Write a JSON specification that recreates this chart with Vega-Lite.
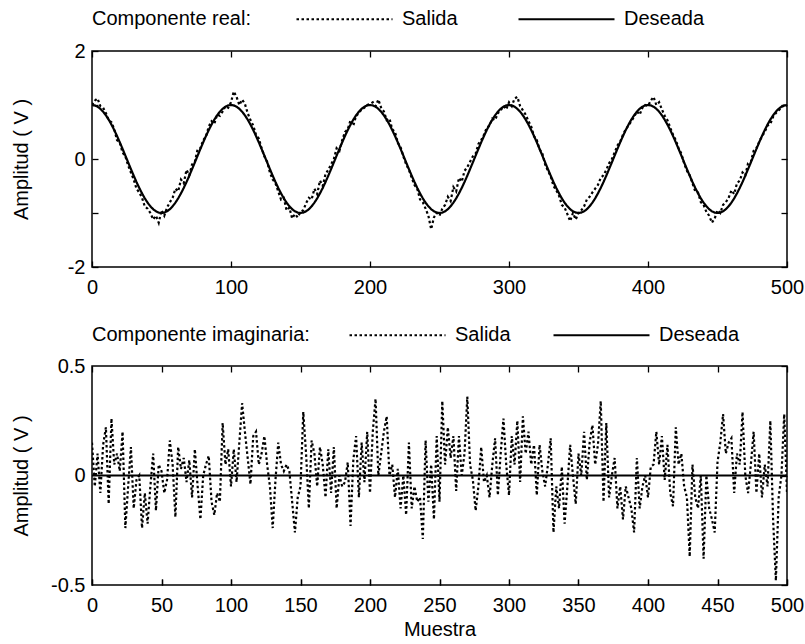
{
"$schema":"https://vega.github.io/schema/vega-lite/v6.json",
"padding":{"left":10,"top":6,"right":5,"bottom":5},
"background":"white",
"spacing":24,
"config":{"font":"Liberation Sans","view":{"stroke":"black","strokeWidth":1.5},
"axis":{"labelFont":"Liberation Sans","labelFontSize":20,"labelColor":"black","titleFont":"Liberation Sans","titleFontSize":20,"titleFontWeight":"normal","titleColor":"black","domain":false,"tickColor":"black","tickWidth":1.3,"tickSize":6,"tickOpacity":1,"grid":false},
"legend":{"labelFont":"Liberation Sans","titleFont":"Liberation Sans"}},
"resolve":{"scale":{"strokeDash":"independent"},"legend":{"strokeDash":"independent"}},
"vconcat":[
{"width":695,"height":216,
"data":{"values":[
{"n":0,"Salida":1.0,"Deseada":1},{"n":2,"Salida":1.08,"Deseada":0.992},{"n":4,"Salida":1.12,"Deseada":0.969},{"n":6,"Salida":0.98,"Deseada":0.93},{"n":8,"Salida":0.95,"Deseada":0.876},{"n":10,"Salida":0.85,"Deseada":0.809},{"n":12,"Salida":0.72,"Deseada":0.729},{"n":14,"Salida":0.68,"Deseada":0.637},{"n":16,"Salida":0.55,"Deseada":0.536},{"n":18,"Salida":0.35,"Deseada":0.426},{"n":20,"Salida":0.3,"Deseada":0.309},{"n":22,"Salida":0.12,"Deseada":0.187},{"n":24,"Salida":0.05,"Deseada":0.063},{"n":26,"Salida":-0.12,"Deseada":-0.063},{"n":28,"Salida":-0.25,"Deseada":-0.187},{"n":30,"Salida":-0.38,"Deseada":-0.309},{"n":32,"Salida":-0.55,"Deseada":-0.426},{"n":34,"Salida":-0.62,"Deseada":-0.536},{"n":36,"Salida":-0.72,"Deseada":-0.637},{"n":38,"Salida":-0.88,"Deseada":-0.729},{"n":40,"Salida":-0.92,"Deseada":-0.809},{"n":42,"Salida":-1.0,"Deseada":-0.876},{"n":44,"Salida":-1.12,"Deseada":-0.93},{"n":46,"Salida":-1.05,"Deseada":-0.969},{"n":48,"Salida":-1.18,"Deseada":-0.992},{"n":50,"Salida":-0.95,"Deseada":-1},{"n":52,"Salida":-1.05,"Deseada":-0.992},{"n":54,"Salida":-0.9,"Deseada":-0.969},{"n":56,"Salida":-0.8,"Deseada":-0.93},{"n":58,"Salida":-0.72,"Deseada":-0.876},{"n":60,"Salida":-0.55,"Deseada":-0.809},{"n":62,"Salida":-0.6,"Deseada":-0.729},{"n":64,"Salida":-0.38,"Deseada":-0.637},{"n":66,"Salida":-0.45,"Deseada":-0.536},{"n":68,"Salida":-0.2,"Deseada":-0.426},{"n":70,"Salida":-0.3,"Deseada":-0.309},{"n":72,"Salida":-0.1,"Deseada":-0.187},{"n":74,"Salida":-0.05,"Deseada":-0.063},{"n":76,"Salida":0.18,"Deseada":0.063},{"n":78,"Salida":0.2,"Deseada":0.187},{"n":80,"Salida":0.35,"Deseada":0.309},{"n":82,"Salida":0.42,"Deseada":0.426},{"n":84,"Salida":0.6,"Deseada":0.536},{"n":86,"Salida":0.7,"Deseada":0.637},{"n":88,"Salida":0.65,"Deseada":0.729},{"n":90,"Salida":0.82,"Deseada":0.809},{"n":92,"Salida":0.8,"Deseada":0.876},{"n":94,"Salida":0.88,"Deseada":0.93},{"n":96,"Salida":0.98,"Deseada":0.969},{"n":98,"Salida":0.95,"Deseada":0.992},
{"n":100,"Salida":1.05,"Deseada":1},{"n":102,"Salida":1.25,"Deseada":0.992},{"n":104,"Salida":1.15,"Deseada":0.969},{"n":106,"Salida":1.0,"Deseada":0.93},{"n":108,"Salida":1.1,"Deseada":0.876},{"n":110,"Salida":1.02,"Deseada":0.809},{"n":112,"Salida":0.85,"Deseada":0.729},{"n":114,"Salida":0.72,"Deseada":0.637},{"n":116,"Salida":0.62,"Deseada":0.536},{"n":118,"Salida":0.45,"Deseada":0.426},{"n":120,"Salida":0.38,"Deseada":0.309},{"n":122,"Salida":0.2,"Deseada":0.187},{"n":124,"Salida":0.05,"Deseada":0.063},{"n":126,"Salida":-0.05,"Deseada":-0.063},{"n":128,"Salida":-0.25,"Deseada":-0.187},{"n":130,"Salida":-0.38,"Deseada":-0.309},{"n":132,"Salida":-0.45,"Deseada":-0.426},{"n":134,"Salida":-0.6,"Deseada":-0.536},{"n":136,"Salida":-0.75,"Deseada":-0.637},{"n":138,"Salida":-0.72,"Deseada":-0.729},{"n":140,"Salida":-0.95,"Deseada":-0.809},{"n":142,"Salida":-0.9,"Deseada":-0.876},{"n":144,"Salida":-1.1,"Deseada":-0.93},{"n":146,"Salida":-1.02,"Deseada":-0.969},{"n":148,"Salida":-1.08,"Deseada":-0.992},{"n":150,"Salida":-0.98,"Deseada":-1},{"n":152,"Salida":-0.95,"Deseada":-0.992},{"n":154,"Salida":-0.82,"Deseada":-0.969},{"n":156,"Salida":-0.72,"Deseada":-0.93},{"n":158,"Salida":-0.75,"Deseada":-0.876},{"n":160,"Salida":-0.55,"Deseada":-0.809},{"n":162,"Salida":-0.65,"Deseada":-0.729},{"n":164,"Salida":-0.4,"Deseada":-0.637},{"n":166,"Salida":-0.5,"Deseada":-0.536},{"n":168,"Salida":-0.28,"Deseada":-0.426},{"n":170,"Salida":-0.2,"Deseada":-0.309},{"n":172,"Salida":-0.1,"Deseada":-0.187},{"n":174,"Salida":0.0,"Deseada":-0.063},{"n":176,"Salida":0.2,"Deseada":0.063},{"n":178,"Salida":0.15,"Deseada":0.187},{"n":180,"Salida":0.35,"Deseada":0.309},{"n":182,"Salida":0.5,"Deseada":0.426},{"n":184,"Salida":0.55,"Deseada":0.536},{"n":186,"Salida":0.72,"Deseada":0.637},{"n":188,"Salida":0.62,"Deseada":0.729},{"n":190,"Salida":0.8,"Deseada":0.809},{"n":192,"Salida":0.85,"Deseada":0.876},{"n":194,"Salida":0.92,"Deseada":0.93},{"n":196,"Salida":0.95,"Deseada":0.969},{"n":198,"Salida":1.0,"Deseada":0.992},
{"n":200,"Salida":1.02,"Deseada":1},{"n":202,"Salida":1.05,"Deseada":0.992},{"n":204,"Salida":0.98,"Deseada":0.969},{"n":206,"Salida":1.1,"Deseada":0.93},{"n":208,"Salida":0.95,"Deseada":0.876},{"n":210,"Salida":0.88,"Deseada":0.809},{"n":212,"Salida":0.72,"Deseada":0.729},{"n":214,"Salida":0.75,"Deseada":0.637},{"n":216,"Salida":0.55,"Deseada":0.536},{"n":218,"Salida":0.5,"Deseada":0.426},{"n":220,"Salida":0.3,"Deseada":0.309},{"n":222,"Salida":0.22,"Deseada":0.187},{"n":224,"Salida":0.05,"Deseada":0.063},{"n":226,"Salida":-0.1,"Deseada":-0.063},{"n":228,"Salida":-0.2,"Deseada":-0.187},{"n":230,"Salida":-0.35,"Deseada":-0.309},{"n":232,"Salida":-0.48,"Deseada":-0.426},{"n":234,"Salida":-0.55,"Deseada":-0.536},{"n":236,"Salida":-0.75,"Deseada":-0.637},{"n":238,"Salida":-0.8,"Deseada":-0.729},{"n":240,"Salida":-0.92,"Deseada":-0.809},{"n":242,"Salida":-1.05,"Deseada":-0.876},{"n":244,"Salida":-1.3,"Deseada":-0.93},{"n":246,"Salida":-1.08,"Deseada":-0.969},{"n":248,"Salida":-1.0,"Deseada":-0.992},{"n":250,"Salida":-1.05,"Deseada":-1},{"n":252,"Salida":-0.92,"Deseada":-0.992},{"n":254,"Salida":-0.85,"Deseada":-0.969},{"n":256,"Salida":-0.7,"Deseada":-0.93},{"n":258,"Salida":-0.78,"Deseada":-0.876},{"n":260,"Salida":-0.52,"Deseada":-0.809},{"n":262,"Salida":-0.6,"Deseada":-0.729},{"n":264,"Salida":-0.35,"Deseada":-0.637},{"n":266,"Salida":-0.42,"Deseada":-0.536},{"n":268,"Salida":-0.22,"Deseada":-0.426},{"n":270,"Salida":-0.15,"Deseada":-0.309},{"n":272,"Salida":-0.05,"Deseada":-0.187},{"n":274,"Salida":0.05,"Deseada":-0.063},{"n":276,"Salida":0.1,"Deseada":0.063},{"n":278,"Salida":0.28,"Deseada":0.187},{"n":280,"Salida":0.35,"Deseada":0.309},{"n":282,"Salida":0.45,"Deseada":0.426},{"n":284,"Salida":0.58,"Deseada":0.536},{"n":286,"Salida":0.62,"Deseada":0.637},{"n":288,"Salida":0.75,"Deseada":0.729},{"n":290,"Salida":0.72,"Deseada":0.809},{"n":292,"Salida":0.85,"Deseada":0.876},{"n":294,"Salida":0.9,"Deseada":0.93},{"n":296,"Salida":0.98,"Deseada":0.969},{"n":298,"Salida":0.92,"Deseada":0.992},
{"n":300,"Salida":1.05,"Deseada":1},{"n":302,"Salida":0.98,"Deseada":0.992},{"n":304,"Salida":1.12,"Deseada":0.969},{"n":306,"Salida":1.15,"Deseada":0.93},{"n":308,"Salida":0.98,"Deseada":0.876},{"n":310,"Salida":0.9,"Deseada":0.809},{"n":312,"Salida":0.82,"Deseada":0.729},{"n":314,"Salida":0.7,"Deseada":0.637},{"n":316,"Salida":0.6,"Deseada":0.536},{"n":318,"Salida":0.42,"Deseada":0.426},{"n":320,"Salida":0.35,"Deseada":0.309},{"n":322,"Salida":0.18,"Deseada":0.187},{"n":324,"Salida":0.1,"Deseada":0.063},{"n":326,"Salida":-0.1,"Deseada":-0.063},{"n":328,"Salida":-0.22,"Deseada":-0.187},{"n":330,"Salida":-0.32,"Deseada":-0.309},{"n":332,"Salida":-0.5,"Deseada":-0.426},{"n":334,"Salida":-0.58,"Deseada":-0.536},{"n":336,"Salida":-0.68,"Deseada":-0.637},{"n":338,"Salida":-0.85,"Deseada":-0.729},{"n":340,"Salida":-0.9,"Deseada":-0.809},{"n":342,"Salida":-1.02,"Deseada":-0.876},{"n":344,"Salida":-1.15,"Deseada":-0.93},{"n":346,"Salida":-1.0,"Deseada":-0.969},{"n":348,"Salida":-1.12,"Deseada":-0.992},{"n":350,"Salida":-1.0,"Deseada":-1},{"n":352,"Salida":-0.95,"Deseada":-0.992},{"n":354,"Salida":-0.88,"Deseada":-0.969},{"n":356,"Salida":-0.75,"Deseada":-0.93},{"n":358,"Salida":-0.7,"Deseada":-0.876},{"n":360,"Salida":-0.62,"Deseada":-0.809},{"n":362,"Salida":-0.55,"Deseada":-0.729},{"n":364,"Salida":-0.48,"Deseada":-0.637},{"n":366,"Salida":-0.35,"Deseada":-0.536},{"n":368,"Salida":-0.3,"Deseada":-0.426},{"n":370,"Salida":-0.2,"Deseada":-0.309},{"n":372,"Salida":-0.08,"Deseada":-0.187},{"n":374,"Salida":0.0,"Deseada":-0.063},{"n":376,"Salida":0.12,"Deseada":0.063},{"n":378,"Salida":0.25,"Deseada":0.187},{"n":380,"Salida":0.32,"Deseada":0.309},{"n":382,"Salida":0.45,"Deseada":0.426},{"n":384,"Salida":0.55,"Deseada":0.536},{"n":386,"Salida":0.62,"Deseada":0.637},{"n":388,"Salida":0.7,"Deseada":0.729},{"n":390,"Salida":0.78,"Deseada":0.809},{"n":392,"Salida":0.88,"Deseada":0.876},{"n":394,"Salida":0.82,"Deseada":0.93},{"n":396,"Salida":0.95,"Deseada":0.969},{"n":398,"Salida":1.0,"Deseada":0.992},
{"n":400,"Salida":0.98,"Deseada":1},{"n":402,"Salida":1.08,"Deseada":0.992},{"n":404,"Salida":1.15,"Deseada":0.969},{"n":406,"Salida":1.0,"Deseada":0.93},{"n":408,"Salida":1.05,"Deseada":0.876},{"n":410,"Salida":0.92,"Deseada":0.809},{"n":412,"Salida":0.8,"Deseada":0.729},{"n":414,"Salida":0.72,"Deseada":0.637},{"n":416,"Salida":0.58,"Deseada":0.536},{"n":418,"Salida":0.45,"Deseada":0.426},{"n":420,"Salida":0.35,"Deseada":0.309},{"n":422,"Salida":0.2,"Deseada":0.187},{"n":424,"Salida":0.1,"Deseada":0.063},{"n":426,"Salida":-0.08,"Deseada":-0.063},{"n":428,"Salida":-0.22,"Deseada":-0.187},{"n":430,"Salida":-0.3,"Deseada":-0.309},{"n":432,"Salida":-0.45,"Deseada":-0.426},{"n":434,"Salida":-0.6,"Deseada":-0.536},{"n":436,"Salida":-0.62,"Deseada":-0.637},{"n":438,"Salida":-0.8,"Deseada":-0.729},{"n":440,"Salida":-0.85,"Deseada":-0.809},{"n":442,"Salida":-0.98,"Deseada":-0.876},{"n":444,"Salida":-1.05,"Deseada":-0.93},{"n":446,"Salida":-1.18,"Deseada":-0.969},{"n":448,"Salida":-1.1,"Deseada":-0.992},{"n":450,"Salida":-0.95,"Deseada":-1},{"n":452,"Salida":-1.0,"Deseada":-0.992},{"n":454,"Salida":-0.85,"Deseada":-0.969},{"n":456,"Salida":-0.8,"Deseada":-0.93},{"n":458,"Salida":-0.72,"Deseada":-0.876},{"n":460,"Salida":-0.58,"Deseada":-0.809},{"n":462,"Salida":-0.65,"Deseada":-0.729},{"n":464,"Salida":-0.45,"Deseada":-0.637},{"n":466,"Salida":-0.4,"Deseada":-0.536},{"n":468,"Salida":-0.25,"Deseada":-0.426},{"n":470,"Salida":-0.3,"Deseada":-0.309},{"n":472,"Salida":-0.08,"Deseada":-0.187},{"n":474,"Salida":-0.05,"Deseada":-0.063},{"n":476,"Salida":0.15,"Deseada":0.063},{"n":478,"Salida":0.2,"Deseada":0.187},{"n":480,"Salida":0.32,"Deseada":0.309},{"n":482,"Salida":0.42,"Deseada":0.426},{"n":484,"Salida":0.5,"Deseada":0.536},{"n":486,"Salida":0.62,"Deseada":0.637},{"n":488,"Salida":0.65,"Deseada":0.729},{"n":490,"Salida":0.78,"Deseada":0.809},{"n":492,"Salida":0.85,"Deseada":0.876},{"n":494,"Salida":0.9,"Deseada":0.93},{"n":496,"Salida":0.95,"Deseada":0.969},{"n":498,"Salida":1.0,"Deseada":0.992},{"n":500,"Salida":0.98,"Deseada":1}
]},
"transform":[{"fold":["Salida","Deseada"],"as":["serie","v"]}],
"resolve":{"axis":{"x":"independent","y":"independent"}},
"layer":[
{"mark":{"type":"line","color":"black","strokeWidth":2.2,"strokeCap":"butt","clip":true},
"encoding":{
"x":{"field":"n","type":"quantitative","scale":{"domain":[0,500],"nice":false,"zero":false},"axis":{"orient":"bottom","values":[0,100,200,300,400,500],"title":null,"labelFlush":false,"ticks":false,"tickSize":0,"labelPadding":10}},
"y":{"field":"v","type":"quantitative","scale":{"domain":[-2,2],"nice":false},"axis":{"orient":"left","values":[-2,-1,0,1,2],"labelExpr":"datum.value % 2 == 0 ? replace(datum.label, '\u2212', '-') : ''","title":"Amplitud ( V )","minExtent":45,"maxExtent":45,"titlePadding":16,"ticks":false,"tickSize":0,"labelPadding":7}},
"strokeDash":{"field":"serie","type":"nominal","scale":{"domain":["Salida","Deseada"],"range":[[2.5,2.5],[1,0]]},
"legend":{"title":"Componente real:","orient":"none","legendX":0,"legendY":-43.5,"direction":"horizontal","titleOrient":"left","titleFontSize":20,"titleFontWeight":"normal","titleColor":"black","titleLimit":400,"labelFontSize":20,"labelColor":"black","labelLimit":200,"symbolType":"M-4.8,0H4.8","symbolSize":400,"symbolStrokeWidth":2.2,"symbolStrokeColor":"black","symbolFillColor":"transparent","titlePadding":82,"columnPadding":56,"labelOffset":46}}
}},
{"mark":{"type":"line","opacity":0},
"encoding":{
"x":{"field":"n","type":"quantitative","axis":{"orient":"top","offset":-216,"values":[0,100,200,300,400,500],"labels":false,"title":null,"minExtent":0,"ticks":true,"tickSize":6,"tickColor":"black","tickWidth":1.3,"zindex":2}},
"y":{"field":"v","type":"quantitative","axis":{"orient":"right","offset":-695,"values":[-2,-1,0,1,2],"labels":false,"title":null,"minExtent":0,"ticks":true,"tickSize":6,"tickColor":"black","tickWidth":1.3,"zindex":2}},
"detail":{"field":"serie"}
}},
{"mark":{"type":"line","opacity":0},
"encoding":{
"x":{"field":"n","type":"quantitative","axis":{"orient":"bottom","offset":-216,"values":[0,100,200,300,400,500],"labels":false,"title":null,"minExtent":0,"ticks":true,"tickSize":6,"tickColor":"black","tickWidth":1.3,"zindex":2}},
"y":{"field":"v","type":"quantitative","axis":{"orient":"left","offset":-695,"values":[-2,-1,0,1,2],"labels":false,"title":null,"minExtent":0,"ticks":true,"tickSize":6,"tickColor":"black","tickWidth":1.3,"zindex":2}},
"detail":{"field":"serie"}
}}
]},
{"width":695,"height":219,
"data":{"values":[
{"n":0,"Salida":0.15,"Deseada":0},{"n":2,"Salida":-0.05,"Deseada":0},{"n":4,"Salida":0.1,"Deseada":0},{"n":6,"Salida":-0.08,"Deseada":0},{"n":8,"Salida":0.14,"Deseada":0},{"n":10,"Salida":0.22,"Deseada":0},{"n":12,"Salida":-0.13,"Deseada":0},{"n":14,"Salida":0.26,"Deseada":0},{"n":16,"Salida":0.05,"Deseada":0},{"n":18,"Salida":0.1,"Deseada":0},{"n":20,"Salida":0.02,"Deseada":0},{"n":22,"Salida":0.2,"Deseada":0},{"n":24,"Salida":-0.24,"Deseada":0},{"n":26,"Salida":-0.05,"Deseada":0},{"n":28,"Salida":0.13,"Deseada":0},{"n":30,"Salida":-0.15,"Deseada":0},{"n":32,"Salida":-0.02,"Deseada":0},{"n":34,"Salida":0.0,"Deseada":0},{"n":36,"Salida":-0.24,"Deseada":0},{"n":38,"Salida":-0.08,"Deseada":0},{"n":40,"Salida":-0.22,"Deseada":0},{"n":42,"Salida":-0.05,"Deseada":0},{"n":44,"Salida":0.1,"Deseada":0},{"n":46,"Salida":-0.16,"Deseada":0},{"n":48,"Salida":0.05,"Deseada":0},{"n":50,"Salida":0.02,"Deseada":0},{"n":52,"Salida":-0.08,"Deseada":0},{"n":54,"Salida":-0.02,"Deseada":0},{"n":56,"Salida":0.16,"Deseada":0},{"n":58,"Salida":0.05,"Deseada":0},{"n":60,"Salida":-0.19,"Deseada":0},{"n":62,"Salida":0.13,"Deseada":0},{"n":64,"Salida":0.03,"Deseada":0},{"n":66,"Salida":0.08,"Deseada":0},{"n":68,"Salida":-0.03,"Deseada":0},{"n":70,"Salida":0.07,"Deseada":0},{"n":72,"Salida":-0.1,"Deseada":0},{"n":74,"Salida":0.12,"Deseada":0},{"n":76,"Salida":-0.05,"Deseada":0},{"n":78,"Salida":-0.2,"Deseada":0},{"n":80,"Salida":0.0,"Deseada":0},{"n":82,"Salida":0.05,"Deseada":0},{"n":84,"Salida":0.09,"Deseada":0},{"n":86,"Salida":-0.12,"Deseada":0},{"n":88,"Salida":-0.18,"Deseada":0},{"n":90,"Salida":-0.08,"Deseada":0},{"n":92,"Salida":-0.12,"Deseada":0},{"n":94,"Salida":0.24,"Deseada":0},{"n":96,"Salida":0.05,"Deseada":0},{"n":98,"Salida":0.12,"Deseada":0},
{"n":100,"Salida":-0.05,"Deseada":0},{"n":102,"Salida":0.12,"Deseada":0},{"n":104,"Salida":-0.03,"Deseada":0},{"n":106,"Salida":0.15,"Deseada":0},{"n":108,"Salida":0.33,"Deseada":0},{"n":110,"Salida":0.2,"Deseada":0},{"n":112,"Salida":0.08,"Deseada":0},{"n":114,"Salida":-0.04,"Deseada":0},{"n":116,"Salida":0.18,"Deseada":0},{"n":118,"Salida":0.2,"Deseada":0},{"n":120,"Salida":0.05,"Deseada":0},{"n":122,"Salida":0.1,"Deseada":0},{"n":124,"Salida":0.18,"Deseada":0},{"n":126,"Salida":0.05,"Deseada":0},{"n":128,"Salida":-0.05,"Deseada":0},{"n":130,"Salida":-0.24,"Deseada":0},{"n":132,"Salida":-0.02,"Deseada":0},{"n":134,"Salida":0.15,"Deseada":0},{"n":136,"Salida":0.05,"Deseada":0},{"n":138,"Salida":0.02,"Deseada":0},{"n":140,"Salida":0.05,"Deseada":0},{"n":142,"Salida":0.02,"Deseada":0},{"n":144,"Salida":-0.12,"Deseada":0},{"n":146,"Salida":-0.26,"Deseada":0},{"n":148,"Salida":-0.1,"Deseada":0},{"n":150,"Salida":-0.05,"Deseada":0},{"n":152,"Salida":0.29,"Deseada":0},{"n":154,"Salida":0.1,"Deseada":0},{"n":156,"Salida":-0.15,"Deseada":0},{"n":158,"Salida":0.16,"Deseada":0},{"n":160,"Salida":0.1,"Deseada":0},{"n":162,"Salida":-0.05,"Deseada":0},{"n":164,"Salida":0.13,"Deseada":0},{"n":166,"Salida":0.05,"Deseada":0},{"n":168,"Salida":-0.1,"Deseada":0},{"n":170,"Salida":0.12,"Deseada":0},{"n":172,"Salida":-0.08,"Deseada":0},{"n":174,"Salida":0.13,"Deseada":0},{"n":176,"Salida":-0.15,"Deseada":0},{"n":178,"Salida":0.0,"Deseada":0},{"n":180,"Salida":-0.05,"Deseada":0},{"n":182,"Salida":-0.03,"Deseada":0},{"n":184,"Salida":0.06,"Deseada":0},{"n":186,"Salida":-0.23,"Deseada":0},{"n":188,"Salida":0.07,"Deseada":0},{"n":190,"Salida":0.18,"Deseada":0},{"n":192,"Salida":-0.1,"Deseada":0},{"n":194,"Salida":0.15,"Deseada":0},{"n":196,"Salida":-0.03,"Deseada":0},{"n":198,"Salida":0.2,"Deseada":0},
{"n":200,"Salida":-0.08,"Deseada":0},{"n":202,"Salida":0.2,"Deseada":0},{"n":204,"Salida":0.35,"Deseada":0},{"n":206,"Salida":0.0,"Deseada":0},{"n":208,"Salida":0.1,"Deseada":0},{"n":210,"Salida":0.2,"Deseada":0},{"n":212,"Salida":0.27,"Deseada":0},{"n":214,"Salida":0.0,"Deseada":0},{"n":216,"Salida":0.05,"Deseada":0},{"n":218,"Salida":-0.1,"Deseada":0},{"n":220,"Salida":0.03,"Deseada":0},{"n":222,"Salida":-0.15,"Deseada":0},{"n":224,"Salida":0.0,"Deseada":0},{"n":226,"Salida":-0.18,"Deseada":0},{"n":228,"Salida":0.15,"Deseada":0},{"n":230,"Salida":-0.15,"Deseada":0},{"n":232,"Salida":-0.05,"Deseada":0},{"n":234,"Salida":-0.12,"Deseada":0},{"n":236,"Salida":-0.1,"Deseada":0},{"n":238,"Salida":-0.29,"Deseada":0},{"n":240,"Salida":0.16,"Deseada":0},{"n":242,"Salida":-0.12,"Deseada":0},{"n":244,"Salida":0.05,"Deseada":0},{"n":246,"Salida":-0.2,"Deseada":0},{"n":248,"Salida":0.18,"Deseada":0},{"n":250,"Salida":-0.12,"Deseada":0},{"n":252,"Salida":0.34,"Deseada":0},{"n":254,"Salida":0.05,"Deseada":0},{"n":256,"Salida":0.22,"Deseada":0},{"n":258,"Salida":0.08,"Deseada":0},{"n":260,"Salida":0.18,"Deseada":0},{"n":262,"Salida":-0.07,"Deseada":0},{"n":264,"Salida":0.18,"Deseada":0},{"n":266,"Salida":0.0,"Deseada":0},{"n":268,"Salida":0.1,"Deseada":0},{"n":270,"Salida":0.36,"Deseada":0},{"n":272,"Salida":0.05,"Deseada":0},{"n":274,"Salida":-0.02,"Deseada":0},{"n":276,"Salida":-0.16,"Deseada":0},{"n":278,"Salida":-0.05,"Deseada":0},{"n":280,"Salida":0.13,"Deseada":0},{"n":282,"Salida":-0.03,"Deseada":0},{"n":284,"Salida":0.0,"Deseada":0},{"n":286,"Salida":-0.1,"Deseada":0},{"n":288,"Salida":0.05,"Deseada":0},{"n":290,"Salida":0.17,"Deseada":0},{"n":292,"Salida":-0.09,"Deseada":0},{"n":294,"Salida":0.1,"Deseada":0},{"n":296,"Salida":0.26,"Deseada":0},{"n":298,"Salida":0.05,"Deseada":0},
{"n":300,"Salida":-0.09,"Deseada":0},{"n":302,"Salida":0.18,"Deseada":0},{"n":304,"Salida":0.05,"Deseada":0},{"n":306,"Salida":0.25,"Deseada":0},{"n":308,"Salida":-0.03,"Deseada":0},{"n":310,"Salida":0.27,"Deseada":0},{"n":312,"Salida":0.1,"Deseada":0},{"n":314,"Salida":0.2,"Deseada":0},{"n":316,"Salida":0.05,"Deseada":0},{"n":318,"Salida":0.14,"Deseada":0},{"n":320,"Salida":-0.09,"Deseada":0},{"n":322,"Salida":0.14,"Deseada":0},{"n":324,"Salida":0.02,"Deseada":0},{"n":326,"Salida":-0.05,"Deseada":0},{"n":328,"Salida":0.05,"Deseada":0},{"n":330,"Salida":0.17,"Deseada":0},{"n":332,"Salida":-0.26,"Deseada":0},{"n":334,"Salida":-0.05,"Deseada":0},{"n":336,"Salida":-0.15,"Deseada":0},{"n":338,"Salida":0.04,"Deseada":0},{"n":340,"Salida":-0.22,"Deseada":0},{"n":342,"Salida":-0.05,"Deseada":0},{"n":344,"Salida":0.14,"Deseada":0},{"n":346,"Salida":0.0,"Deseada":0},{"n":348,"Salida":-0.13,"Deseada":0},{"n":350,"Salida":0.1,"Deseada":0},{"n":352,"Salida":0.0,"Deseada":0},{"n":354,"Salida":0.2,"Deseada":0},{"n":356,"Salida":-0.02,"Deseada":0},{"n":358,"Salida":0.15,"Deseada":0},{"n":360,"Salida":0.23,"Deseada":0},{"n":362,"Salida":0.05,"Deseada":0},{"n":364,"Salida":0.14,"Deseada":0},{"n":366,"Salida":0.34,"Deseada":0},{"n":368,"Salida":-0.12,"Deseada":0},{"n":370,"Salida":0.24,"Deseada":0},{"n":372,"Salida":-0.1,"Deseada":0},{"n":374,"Salida":0.0,"Deseada":0},{"n":376,"Salida":0.08,"Deseada":0},{"n":378,"Salida":-0.15,"Deseada":0},{"n":380,"Salida":-0.05,"Deseada":0},{"n":382,"Salida":-0.2,"Deseada":0},{"n":384,"Salida":-0.05,"Deseada":0},{"n":386,"Salida":-0.1,"Deseada":0},{"n":388,"Salida":-0.15,"Deseada":0},{"n":390,"Salida":-0.26,"Deseada":0},{"n":392,"Salida":0.08,"Deseada":0},{"n":394,"Salida":-0.15,"Deseada":0},{"n":396,"Salida":-0.05,"Deseada":0},{"n":398,"Salida":0.0,"Deseada":0},
{"n":400,"Salida":-0.1,"Deseada":0},{"n":402,"Salida":0.04,"Deseada":0},{"n":404,"Salida":0.05,"Deseada":0},{"n":406,"Salida":0.2,"Deseada":0},{"n":408,"Salida":0.05,"Deseada":0},{"n":410,"Salida":0.18,"Deseada":0},{"n":412,"Salida":-0.02,"Deseada":0},{"n":414,"Salida":0.14,"Deseada":0},{"n":416,"Salida":-0.08,"Deseada":0},{"n":418,"Salida":-0.14,"Deseada":0},{"n":420,"Salida":0.22,"Deseada":0},{"n":422,"Salida":0.05,"Deseada":0},{"n":424,"Salida":0.1,"Deseada":0},{"n":426,"Salida":-0.05,"Deseada":0},{"n":428,"Salida":-0.1,"Deseada":0},{"n":430,"Salida":-0.37,"Deseada":0},{"n":432,"Salida":0.05,"Deseada":0},{"n":434,"Salida":-0.1,"Deseada":0},{"n":436,"Salida":-0.15,"Deseada":0},{"n":438,"Salida":0.0,"Deseada":0},{"n":440,"Salida":-0.38,"Deseada":0},{"n":442,"Salida":0.0,"Deseada":0},{"n":444,"Salida":-0.15,"Deseada":0},{"n":446,"Salida":-0.2,"Deseada":0},{"n":448,"Salida":-0.26,"Deseada":0},{"n":450,"Salida":0.06,"Deseada":0},{"n":452,"Salida":0.15,"Deseada":0},{"n":454,"Salida":0.28,"Deseada":0},{"n":456,"Salida":0.1,"Deseada":0},{"n":458,"Salida":0.15,"Deseada":0},{"n":460,"Salida":0.17,"Deseada":0},{"n":462,"Salida":-0.08,"Deseada":0},{"n":464,"Salida":0.1,"Deseada":0},{"n":466,"Salida":0.05,"Deseada":0},{"n":468,"Salida":0.29,"Deseada":0},{"n":470,"Salida":0.0,"Deseada":0},{"n":472,"Salida":-0.08,"Deseada":0},{"n":474,"Salida":0.05,"Deseada":0},{"n":476,"Salida":0.2,"Deseada":0},{"n":478,"Salida":-0.08,"Deseada":0},{"n":480,"Salida":0.1,"Deseada":0},{"n":482,"Salida":-0.1,"Deseada":0},{"n":484,"Salida":0.05,"Deseada":0},{"n":486,"Salida":-0.05,"Deseada":0},{"n":488,"Salida":0.25,"Deseada":0},{"n":490,"Salida":-0.2,"Deseada":0},{"n":492,"Salida":-0.48,"Deseada":0},{"n":494,"Salida":-0.1,"Deseada":0},{"n":496,"Salida":0.0,"Deseada":0},{"n":498,"Salida":0.28,"Deseada":0},{"n":500,"Salida":-0.08,"Deseada":0}
]},
"transform":[{"fold":["Salida","Deseada"],"as":["serie","v"]}],
"resolve":{"axis":{"x":"independent","y":"independent"}},
"layer":[
{"mark":{"type":"line","color":"black","strokeWidth":2.2,"strokeCap":"butt","clip":true},
"encoding":{
"x":{"field":"n","type":"quantitative","scale":{"domain":[0,500],"nice":false,"zero":false},"axis":{"orient":"bottom","values":[0,50,100,150,200,250,300,350,400,450,500],"title":"Muestra","titlePadding":4,"labelFlush":false,"ticks":false,"tickSize":0,"labelPadding":10}},
"y":{"field":"v","type":"quantitative","scale":{"domain":[-0.5,0.5],"nice":false},"axis":{"orient":"left","values":[-0.5,0,0.5],"format":"~g","labelExpr":"replace(datum.label, '\u2212', '-')","title":"Amplitud ( V )","minExtent":45,"maxExtent":45,"titlePadding":16,"ticks":false,"tickSize":0,"labelPadding":7}},
"strokeDash":{"field":"serie","type":"nominal","scale":{"domain":["Salida","Deseada"],"range":[[2.5,2.5],[1,0]]},
"legend":{"title":"Componente imaginaria:","orient":"none","legendX":0,"legendY":-42.5,"direction":"horizontal","titleOrient":"left","titleFontSize":20,"titleFontWeight":"normal","titleColor":"black","titleLimit":400,"labelFontSize":20,"labelColor":"black","labelLimit":200,"symbolType":"M-4.8,0H4.8","symbolSize":400,"symbolStrokeWidth":2.2,"symbolStrokeColor":"black","symbolFillColor":"transparent","titlePadding":76,"columnPadding":38,"labelOffset":46}}
}},
{"mark":{"type":"line","opacity":0},
"encoding":{
"x":{"field":"n","type":"quantitative","axis":{"orient":"top","values":[0,50,100,150,200,250,300,350,400,450,500],"labels":false,"title":null,"minExtent":0,"ticks":true,"tickSize":-6,"tickColor":"black","tickWidth":1.3}},
"y":{"field":"v","type":"quantitative","axis":{"orient":"right","values":[-0.5,0,0.5],"labels":false,"title":null,"minExtent":0,"ticks":true,"tickSize":-6,"tickColor":"black","tickWidth":1.3}},
"detail":{"field":"serie"}
}},
{"mark":{"type":"line","opacity":0},
"encoding":{
"x":{"field":"n","type":"quantitative","axis":{"orient":"bottom","values":[0,50,100,150,200,250,300,350,400,450,500],"labels":false,"title":null,"minExtent":0,"ticks":true,"tickSize":-6,"tickColor":"black","tickWidth":1.3}},
"y":{"field":"v","type":"quantitative","axis":null},
"detail":{"field":"serie"}
}},
{"mark":{"type":"line","opacity":0},
"encoding":{
"x":{"field":"n","type":"quantitative","axis":{"orient":"top","offset":-219,"values":[0,50,100,150,200,250,300,350,400,450,500],"labels":false,"title":null,"minExtent":0,"ticks":true,"tickSize":6,"tickColor":"black","tickWidth":1.3}},
"y":{"field":"v","type":"quantitative","axis":null},
"detail":{"field":"serie"}
}}
]}
]
}
